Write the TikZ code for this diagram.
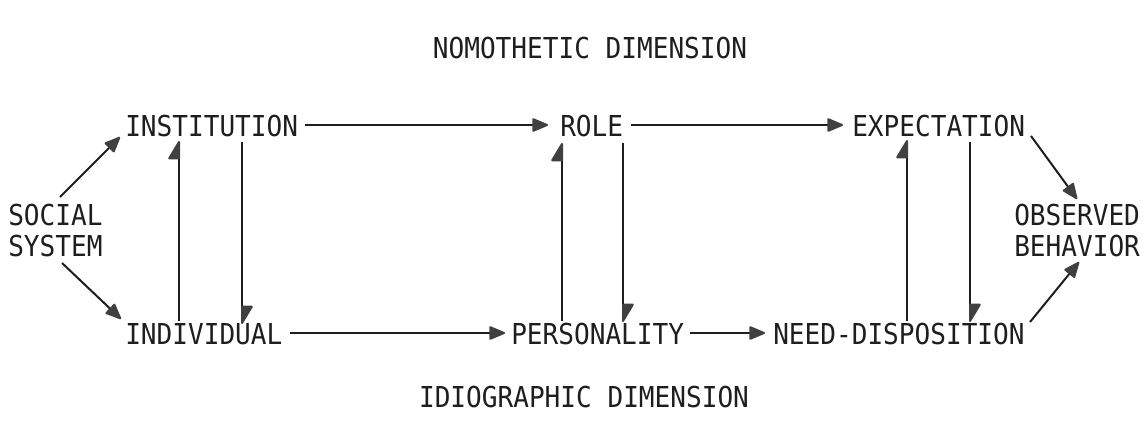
\documentclass[tikz,border=0pt]{standalone}
\usepackage{fontspec}
\newfontfamily\tw[FakeStretch=0.906]{DejaVu Sans Mono}
\usetikzlibrary{arrows.meta,calc}
\definecolor{ink}{HTML}{1E1E1E}
\definecolor{headink}{HTML}{404040}
\begin{document}
\begin{tikzpicture}[x=0.75pt,y=-0.75pt,
  lbl/.style={anchor=base west,inner sep=0pt,text=ink,font=\tw\fontsize{21.6}{23.25}\selectfont,align=left},
  ttl/.style={anchor=base,inner sep=0pt,text=ink,font=\tw\fontsize{21.6}{23.25}\selectfont},
  arr/.style={draw=ink,line width=1.5pt,-{Triangle[length=13pt,width=10.5pt,fill=headink,color=headink,round]}},
  harr/.style={draw=ink,line width=1.5pt,-{Triangle[harpoon,length=14.5pt,width=17pt,fill=headink,color=headink,round]}}]
\useasboundingbox (0,0) rectangle (1144,421);
% titles
\node[ttl] (nomo) at (590,58) {NOMOTHETIC DIMENSION};
\node[ttl] (idio) at (584,407) {IDIOGRAPHIC DIMENSION};
% top row
\node[lbl] (inst) at (125,136) {INSTITUTION};
\node[lbl] (role) at (560,136) {ROLE};
\node[lbl] (expe) at (852,136) {EXPECTATION};
% bottom row
\node[lbl] (indi) at (125,344) {INDIVIDUAL};
\node[lbl] (pers) at (511,344) {PERSONALITY};
\node[lbl] (need) at (773,344) {NEED-DISPOSITION};
% sides (base anchor = last line)
\node[lbl] (soc) at (8,256) {SOCIAL\\SYSTEM};
\node[lbl] (obs) at (1014,256) {OBSERVED\\BEHAVIOR};
% horizontal arrows
\draw[arr] ($(inst.base east)+(7,-11)$) -- ($(role.base west)+(-12,-11)$);
\draw[arr] ($(role.base east)+(8,-11)$) -- ($(expe.base west)+(-9,-11)$);
\draw[arr] ($(indi.base east)+(7,-11)$) -- ($(pers.base west)+(-6,-11)$);
\draw[arr] ($(pers.base east)+(6,-11)$) -- ($(need.base west)+(-8,-11)$);
% vertical coordinates
\coordinate (iu1) at (179,321); \coordinate (iu2) at (179,141);
\coordinate (id1) at (242,142); \coordinate (id2) at (242,324);
\coordinate (ru1) at (562,321); \coordinate (ru2) at (562,143);
\coordinate (rd1) at (623,143); \coordinate (rd2) at (623,322);
\coordinate (eu1) at (907,321); \coordinate (eu2) at (907,140);
\coordinate (ed1) at (970,142); \coordinate (ed2) at (970,322);
\draw[harr] (iu1) -- (iu2);
\draw[harr] (id1) -- (id2);
\draw[harr] (ru1) -- (ru2);
\draw[harr] (rd1) -- (rd2);
\draw[harr] (eu1) -- (eu2);
\draw[harr] (ed1) -- (ed2);
% diagonals
\coordinate (s1) at (60,197); \coordinate (s1t) at (120,137);
\coordinate (s2) at (62,263); \coordinate (s2t) at (121,319);
\coordinate (o1) at (1031,136); \coordinate (o1t) at (1077,199);
\coordinate (o2) at (1030,322); \coordinate (o2t) at (1079,262);
\draw[arr] (s1) -- (s1t);
\draw[arr] (s2) -- (s2t);
\draw[arr] (o1) -- (o1t);
\draw[arr] (o2) -- (o2t);
\end{tikzpicture}
\end{document}
